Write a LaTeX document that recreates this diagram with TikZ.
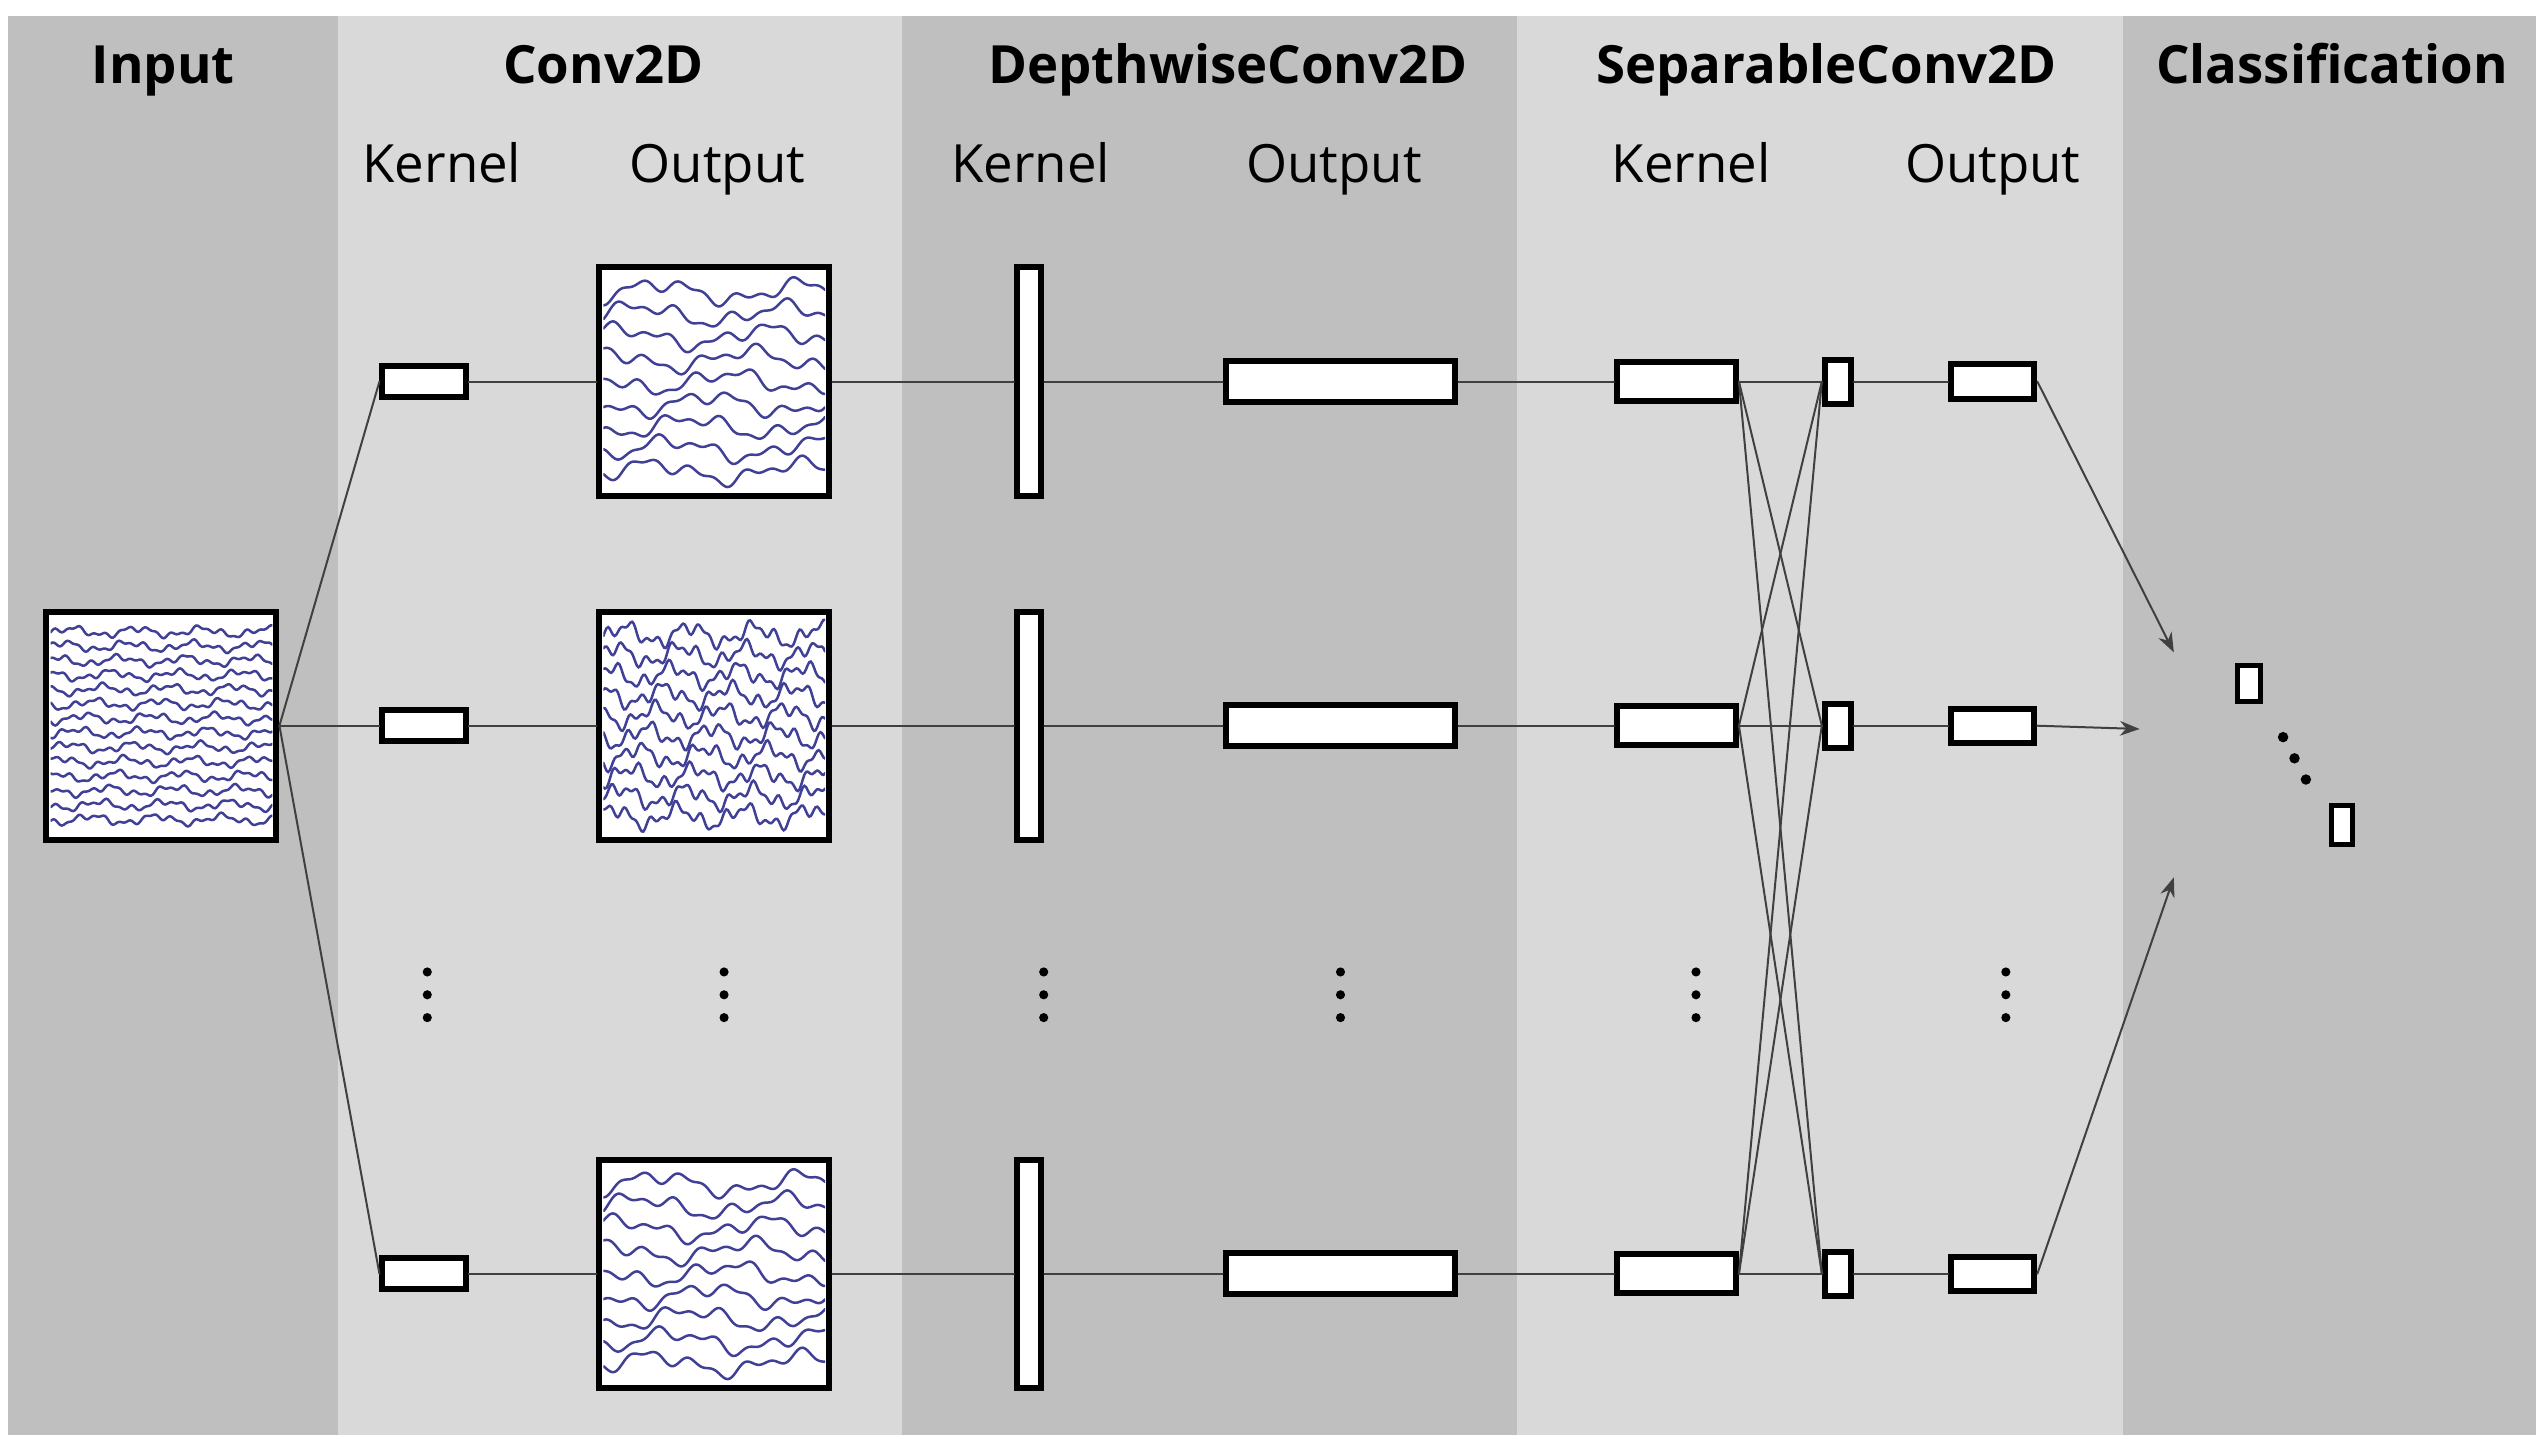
\documentclass[tikz,border=0pt]{standalone}
\usepackage{fontspec}
\setmainfont{Open Sans}
\usetikzlibrary{arrows.meta,positioning}
\tikzset{>=Stealth,
  head/.style={anchor=base,font=\fontsize{15}{18}\selectfont\bfseries},
  sub/.style={anchor=base,font=\fontsize{15}{18}\selectfont},
  blk/.style={draw=black,fill=white,line width=0.6mm,inner sep=0pt},
  sig/.style={blk,minimum width=141*0.1631mm,minimum height=140*0.1631mm},
  link/.style={draw=black!75,line width=0.2mm},
  wave/.style={draw=blue!45!black!75,line width=0.25mm}}
% n lines, amplitude, frequency
\newcommand\eegwaves[4]{%
  \begin{scope}[shift={(#1.center)}]
    \clip (-68,-68) rectangle (68,68);
    \foreach \k in {1,...,#2}
      \draw[wave] plot[domain=-68:68,samples=140]
        (\x,{-62+(\k-0.5)*124/#2+#3*(sin(#4*\x+\k*47)+0.6*sin(2.7*#4*\x+\k*83)+0.4*sin(5.1*#4*\x+\k*29))});
  \end{scope}}
\begin{document}
\begin{tikzpicture}[x=0.1631mm,y=-0.1631mm,line cap=round]
\path[use as bounding box] (0,0) rectangle (1560,890);

% bands
\fill[black!25] (5,10) rectangle (207,880);
\fill[black!15] (207,10) rectangle (553,880);
\fill[black!25] (553,10) rectangle (930,880);
\fill[black!15] (930,10) rectangle (1302,880);
\fill[black!25] (1302,10) rectangle (1555,880);

\node[head] at (100,51) {Input};
\node[head] at (370,51) {Conv2D};
\node[head] at (753,51) {DepthwiseConv2D};
\node[head] at (1120,51) {SeparableConv2D};
\node[head] at (1430,51) {Classification};
\node[sub] at (271,112) {Kernel};
\node[sub] at (440,112) {Output};
\node[sub] at (632,112) {Kernel};
\node[sub] at (818,112) {Output};
\node[sub] at (1037,112) {Kernel};
\node[sub] at (1222,112) {Output};

% input
\node[sig] (in) at (99,445) {};
\eegwaves{in}{14}{2.2}{9}

% rows
\foreach \r/\y in {1/234,2/445,3/781}{
  \node[blk,minimum width=51*0.1631mm,minimum height=19*0.1631mm] (ck\r) at (260,\y) {};
  \node[sig] (co\r) at (438,\y) {};
  \node[blk,minimum width=15*0.1631mm,minimum height=140*0.1631mm] (dk\r) at (631,\y) {};
  \node[blk,minimum width=141*0.1631mm,minimum height=25*0.1631mm] (do\r) at (822,\y) {};
  \node[blk,minimum width=73*0.1631mm,minimum height=24*0.1631mm] (sk\r) at (1028,\y) {};
  \node[blk,minimum width=16*0.1631mm,minimum height=27*0.1631mm] (sp\r) at (1127,\y) {};
  \node[blk,minimum width=51*0.1631mm,minimum height=21*0.1631mm] (so\r) at (1222,\y) {};
}
\eegwaves{co1}{9}{5}{4}
\eegwaves{co2}{10}{5}{9}
\eegwaves{co3}{9}{5}{4}

\foreach \r in {1,2,3}{
  \draw[link] (in.east) -- (ck\r.west);
  \draw[link] (ck\r) -- (co\r) -- (dk\r) -- (do\r) -- (sk\r) -- (sp\r) -- (so\r);
}
\foreach \a/\b in {1/2,1/3,2/1,2/3,3/1,3/2}
  \draw[link] (sk\a.east) -- (sp\b.west);

% classification
\coordinate (c1) at (1333,400);
\coordinate (c2) at (1312,447);
\coordinate (c3) at (1333,538);
\draw[link,->] (so1.east) -- (c1);
\draw[link,->] (so2.east) -- (c2);
\draw[link,->] (so3.east) -- (c3);
\node[blk,line width=0.5mm,minimum width=14*0.1631mm,minimum height=22*0.1631mm] (cl1) at (1379,419) {};
\node[blk,line width=0.5mm,minimum width=13*0.1631mm,minimum height=24*0.1631mm] (cl2) at (1436,506) {};
\foreach \p in {(1400,452),(1407,465),(1414,478)}
  \fill \p circle (3.2);

% dots
\foreach \x in {262,444,640,822,1040,1230}
  \foreach \yy in {596,610,624}
    \fill (\x,\yy) circle (2.8);
\end{tikzpicture}
\end{document}
